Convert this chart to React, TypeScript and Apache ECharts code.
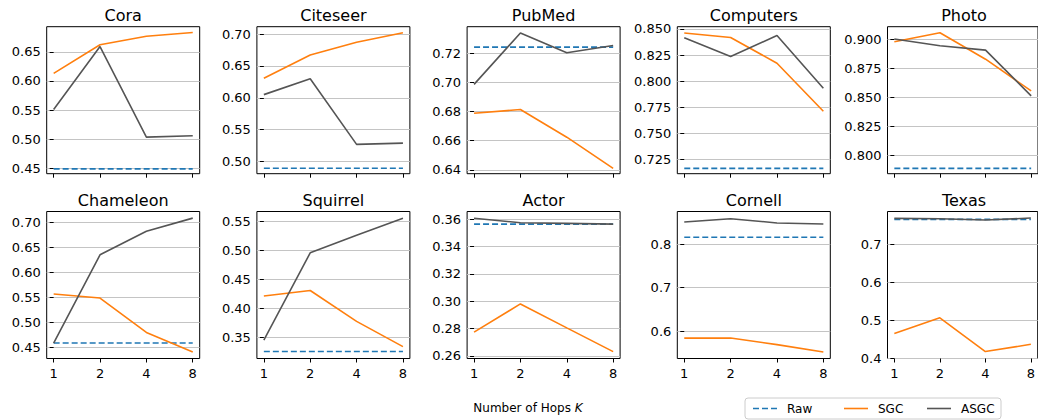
import React, { useEffect, useRef } from "react";
import * as echarts from "echarts";

const K_LABELS = ["1", "2", "4", "8"];
const K_POS = [0, 1, 2, 3];

const DATASETS = ["Cora", "Citeseer", "PubMed", "Computers", "Photo", "Chameleon", "Squirrel", "Actor", "Cornell", "Texas"];

const RAW = [0.449, 0.4895, 0.7241, 0.7163, 0.789, 0.458, 0.3262, 0.3564, 0.816, 0.7662];

const SGC_CORA = [0.613, 0.662, 0.6765, 0.683];
const SGC_CITESEER = [0.6306, 0.667, 0.687, 0.702];
const SGC_PUBMED = [0.6788, 0.6814, 0.6624, 0.6411];
const SGC_COMPUTERS = [0.8461, 0.8419, 0.8172, 0.7711];
const SGC_PHOTO = [0.8977, 0.9054, 0.8827, 0.8555];
const SGC_CHAMELEON = [0.5565, 0.5485, 0.4793, 0.44];
const SGC_SQUIRREL = [0.4214, 0.431, 0.378, 0.3347];
const SGC_ACTOR = [0.2774, 0.298, 0.2805, 0.2631];
const SGC_CORNELL = [0.584, 0.584, 0.569, 0.552];
const SGC_TEXAS = [0.4652, 0.5063, 0.4173, 0.4364];

const ASGC_CORA = [0.551, 0.659, 0.5035, 0.506];
const ASGC_CITESEER = [0.605, 0.63, 0.527, 0.529];
const ASGC_PUBMED = [0.6986, 0.7338, 0.7202, 0.7252];
const ASGC_COMPUTERS = [0.8416, 0.8236, 0.8438, 0.7931];
const ASGC_PHOTO = [0.9, 0.8942, 0.8905, 0.8512];
const ASGC_CHAMELEON = [0.458, 0.6354, 0.6827, 0.7092];
const ASGC_SQUIRREL = [0.3459, 0.4956, 0.5257, 0.5551];
const ASGC_ACTOR = [0.3607, 0.3574, 0.3569, 0.3564];
const ASGC_CORNELL = [0.851, 0.8587, 0.849, 0.8464];
const ASGC_TEXAS = [0.7688, 0.768, 0.7644, 0.7697];

const SGC = [SGC_CORA, SGC_CITESEER, SGC_PUBMED, SGC_COMPUTERS, SGC_PHOTO, SGC_CHAMELEON, SGC_SQUIRREL, SGC_ACTOR, SGC_CORNELL, SGC_TEXAS];
const ASGC = [ASGC_CORA, ASGC_CITESEER, ASGC_PUBMED, ASGC_COMPUTERS, ASGC_PHOTO, ASGC_CHAMELEON, ASGC_SQUIRREL, ASGC_ACTOR, ASGC_CORNELL, ASGC_TEXAS];

const Y_MIN = [0.4408, 0.481, 0.6374, 0.7112, 0.7844, 0.4269, 0.3143, 0.2581, 0.537, 0.399];
const Y_MAX = [0.693, 0.7115, 0.7381, 0.8522, 0.9106, 0.7225, 0.5665, 0.3656, 0.8753, 0.787];

const Y_TICKS = [
  [0.45, 0.5, 0.55, 0.6, 0.65],
  [0.5, 0.55, 0.6, 0.65, 0.7],
  [0.64, 0.66, 0.68, 0.7, 0.72],
  [0.725, 0.75, 0.775, 0.8, 0.825, 0.85],
  [0.8, 0.825, 0.85, 0.875, 0.9],
  [0.45, 0.5, 0.55, 0.6, 0.65, 0.7],
  [0.35, 0.4, 0.45, 0.5, 0.55],
  [0.26, 0.28, 0.3, 0.32, 0.34, 0.36],
  [0.6, 0.7, 0.8],
  [0.4, 0.5, 0.6, 0.7],
];
const Y_DECIMALS = [2, 2, 2, 3, 3, 2, 2, 2, 1, 1];

const LEGEND_NAMES = ["Raw", "SGC", "ASGC"];
const X_TITLE = "Number of Hops {i|K}";

const COLORS = ["#1f77b4", "#ff7f0e", "#555555"];
const FONT = "DejaVu Sans";

export default function App() {
  const ref = useRef<HTMLDivElement>(null);
  useEffect(() => {
    if (!ref.current) return;
    const chart = echarts.init(ref.current, null, { renderer: "svg" });

    const PANEL_LEFT = [46.7, 256.9, 467.1, 677.3, 887.5];
    const ROW_TOP = [26.7, 211.5];
    const PANEL_W = 153;
    const PANEL_H = 147;

    const grids: any[] = [];
    const xAxes: any[] = [];
    const yAxes: any[] = [];
    const series: any[] = [];
    const graphics: any[] = [];

    DATASETS.forEach((name, i) => {
      const row = Math.floor(i / 5);
      const col = i % 5;
      const left = PANEL_LEFT[col];
      const top = ROW_TOP[row];
      grids.push({
        left,
        top,
        width: PANEL_W,
        height: PANEL_H,
        show: true,
        borderColor: "#000",
        borderWidth: 1,
        backgroundColor: "transparent",
        containLabel: false,
      });
      xAxes.push({
        type: "value",
        gridIndex: i,
        min: -0.15,
        max: 3.15,
        axisLine: { show: false },
        axisTick: { show: true, length: 4, lineStyle: { color: "#000" }, customValues: K_POS },
        axisLabel: {
          show: row === 1,
          customValues: K_POS,
          formatter: (v: number) => K_LABELS[Math.round(v)],
          color: "#000",
          fontFamily: FONT,
          fontSize: 13,
          margin: 8,
        },
        splitLine: { show: false },
      });
      const dec = Y_DECIMALS[i];
      yAxes.push({
        type: "value",
        gridIndex: i,
        min: Y_MIN[i],
        max: Y_MAX[i],
        axisLine: { show: false },
        axisTick: { show: true, length: 4, lineStyle: { color: "#000" }, customValues: Y_TICKS[i] },
        axisLabel: {
          show: true,
          customValues: Y_TICKS[i],
          formatter: (v: number) => v.toFixed(dec),
          color: "#000",
          fontFamily: FONT,
          fontSize: 13,
          margin: 6,
        },
        splitLine: { show: true, lineStyle: { color: "#c4c4c4", width: 1 } },
      });
      const rows = [K_POS.map(() => RAW[i]), SGC[i], ASGC[i]];
      LEGEND_NAMES.forEach((sname, s) => {
        series.push({
          name: sname,
          type: "line",
          xAxisIndex: i,
          yAxisIndex: i,
          symbol: "none",
          data: K_POS.map((k, j) => [k, rows[s][j]]),
          lineStyle: { color: COLORS[s], width: 1.6, type: s === 0 ? [6, 3] : "solid" },
          itemStyle: { color: COLORS[s] },
          z: 3 + s,
        });
      });
      graphics.push({
        type: "text",
        x: left + PANEL_W / 2,
        y: top - 11,
        style: {
          text: name,
          align: "center",
          verticalAlign: "middle",
          textAlign: "center",
          textVerticalAlign: "middle",
          fontFamily: FONT,
          fontSize: 16,
          fill: "#000",
        },
      });
    });

    graphics.push({
      type: "text",
      x: 528,
      y: 408,
      style: {
        text: X_TITLE,
        align: "center",
        verticalAlign: "middle",
        textAlign: "center",
        textVerticalAlign: "middle",
        fontFamily: FONT,
        fontSize: 12,
        fill: "#000",
        rich: { i: { fontStyle: "italic", fontFamily: FONT, fontSize: 12, fill: "#000" } },
      },
    });

    // legend box drawn by hand (matplotlib style)
    const LX = 745, LY = 398, LW = 256, LH = 21;
    graphics.push({
      type: "rect",
      shape: { x: LX, y: LY, width: LW, height: LH, r: 3 },
      style: { fill: "#fff", stroke: "#cccccc", lineWidth: 1 },
      z: 10,
    });
    const itemX = [LX + 8, LX + 99, LX + 182];
    LEGEND_NAMES.forEach((n, s) => {
      graphics.push({
        type: "line",
        shape: { x1: itemX[s], y1: LY + LH / 2, x2: itemX[s] + 24, y2: LY + LH / 2 },
        style: { stroke: COLORS[s], lineWidth: 1.6, lineDash: s === 0 ? [6, 3] : null },
        z: 11,
      });
      graphics.push({
        type: "text",
        x: itemX[s] + 34,
        y: LY + LH / 2,
        style: {
          text: n,
          align: "left",
          verticalAlign: "middle",
          textAlign: "left",
          textVerticalAlign: "middle",
          fontFamily: FONT,
          fontSize: 12,
          fill: "#000",
        },
        z: 11,
      });
    });

    chart.setOption({
      animation: false,
      backgroundColor: "#fff",
      grid: grids,
      xAxis: xAxes,
      yAxis: yAxes,
      series,
      graphic: graphics,
    });
    return () => chart.dispose();
  }, []);
  return <div ref={ref} style={{ position: "fixed", left: 0, top: 0, width: 1038, height: 420 }} />;
}
